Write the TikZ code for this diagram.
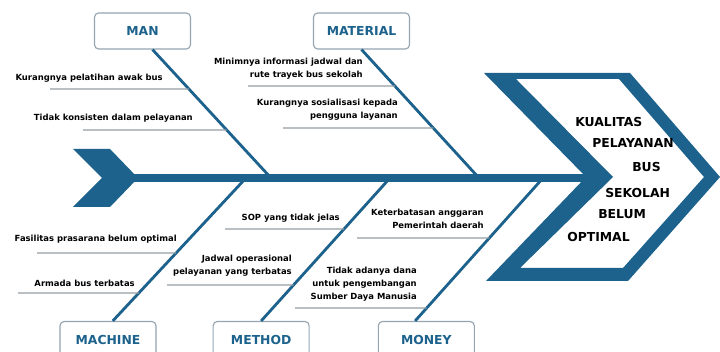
\documentclass[tikz,border=0pt]{standalone}
\usepackage{fontspec}
\setmainfont{DejaVu Sans}
\usepackage{xcolor}
\usepackage{tikz}
\usetikzlibrary{positioning}

\definecolor{fishblue}{RGB}{28,98,140}
\definecolor{boxline}{RGB}{150,165,178}
\definecolor{twiggray}{RGB}{150,158,165}

\begin{document}
\begin{tikzpicture}[
        x=0.025cm, y=-0.025cm,
        catbox/.style={rectangle, draw=boxline, line width=0.8pt, rounded corners=3pt, fill=white, minimum width=2.4cm, minimum height=0.9cm, font=\fontsize{8.8}{10}\selectfont\bfseries, text=fishblue},
        cause/.style={inner sep=0pt, anchor=east, align=right, font=\fontsize{6}{9.2}\selectfont\bfseries},
        effect/.style={inner sep=0pt, anchor=west, font=\fontsize{8.8}{10}\selectfont\bfseries},
        bone/.style={draw=fishblue, line width=2pt},
        twig/.style={draw=twiggray, line width=0.9pt},
        ]

        \clip (0,0) rectangle (720,352);
        \fill[white] (0,0) rectangle (720,352);

        % Spine and tail
        \coordinate (tail) at (130,178);
        \coordinate (head) at (595,178);
        \draw[fishblue, line width=5.5pt] (tail) -- (head);
        \fill[fishblue] (73,149) -- (110,149) -- (138,178) -- (110,207) -- (73,207) -- (102,178) -- cycle;

        % Head
        \fill[fishblue, even odd rule] (484,73) -- (630,73) -- (720,177) -- (628,281) -- (486,281) -- (586,177) -- cycle
            (516,79) -- (619,79) -- (704,177) -- (623,268) -- (520,268) -- (613,177) -- cycle;

        \node[effect] (kualitas) at (575,122) {KUALITAS};
        \node[effect] (pelayanan) at (592,143) {PELAYANAN};
        \node[effect] (bus) at (632,167) {BUS};
        \node[effect] (sekolah) at (605,193) {SEKOLAH};
        \node[effect] (belum) at (598,214) {BELUM};
        \node[effect] (optimal) at (567,237) {OPTIMAL};

        % Category boxes
        \node[catbox] (man) at (142.5,31) {MAN};
        \node[catbox] (material) at (361.5,31) {MATERIAL};
        \node[catbox] (machine) at (108,339.5) {MACHINE};
        \node[catbox, right=1.4cm of machine] (method) {METHOD};
        \node[catbox, right=1.7cm of method] (money) {MONEY};

        % Bones
        \coordinate (manT) at ([xshift=2.5mm]man.south);
        \coordinate (materialT) at (material.south);
        \coordinate (machineT) at ([xshift=1.2mm]machine.north);
        \coordinate (methodT) at (method.north);
        \coordinate (moneyT) at ([xshift=-2.8mm]money.north);
        \coordinate (manS) at (271,178);
        \coordinate (materialS) at (479,178);
        \coordinate (machineS) at (246,178);
        \coordinate (methodS) at (390,178);
        \coordinate (moneyS) at (543,178);

        \draw[bone] (manT) -- (manS);
        \draw[bone] (materialT) -- (materialS);
        \draw[bone] (machineT) -- (machineS);
        \draw[bone] (methodT) -- (methodS);
        \draw[bone] (moneyT) -- (moneyS);

        % Causes
        \node[cause] (man1) at (163,78) {Kurangnya pelatihan awak bus};
        \node[cause] (man2) at (193,118) {Tidak konsisten dalam pelayanan};
        \node[cause] (material1) at (363,69) {Minimnya informasi jadwal dan\\rute trayek bus sekolah};
        \node[cause] (material2) at (398,110) {Kurangnya sosialisasi kepada\\pengguna layanan};
        \node[cause] (machine1) at (177,239) {Fasilitas prasarana belum optimal};
        \node[cause] (machine2) at (135,283) {Armada bus terbatas};
        \node[cause] (method1) at (340,218) {SOP yang tidak jelas};
        \node[cause] (method2) at (292,265.5) {Jadwal operasional\\pelayanan yang terbatas};
        \node[cause] (money1) at (484,219) {Keterbatasan anggaran\\Pemerintah daerah};
        \node[cause] (money2) at (417,284) {Tidak adanya dana\\untuk pengembangan\\Sumber Daya Manusia};

        \draw[twig] (50,89) -- (intersection of manT--manS and 0,89--720,89);
        \draw[twig] (83,130) -- (intersection of manT--manS and 0,130--720,130);
        \draw[twig] (248,86) -- (intersection of materialT--materialS and 0,86--720,86);
        \draw[twig] (283,128) -- (intersection of materialT--materialS and 0,128--720,128);
        \draw[twig] (37,253) -- (intersection of machineT--machineS and 0,253--720,253);
        \draw[twig] (18,293) -- (intersection of machineT--machineS and 0,293--720,293);
        \draw[twig] (225,229) -- (intersection of methodT--methodS and 0,229--720,229);
        \draw[twig] (167,285) -- (intersection of methodT--methodS and 0,285--720,285);
        \draw[twig] (357,238) -- (intersection of moneyT--moneyS and 0,238--720,238);
        \draw[twig] (295,308) -- (intersection of moneyT--moneyS and 0,308--720,308);

    \end{tikzpicture}
\end{document}
